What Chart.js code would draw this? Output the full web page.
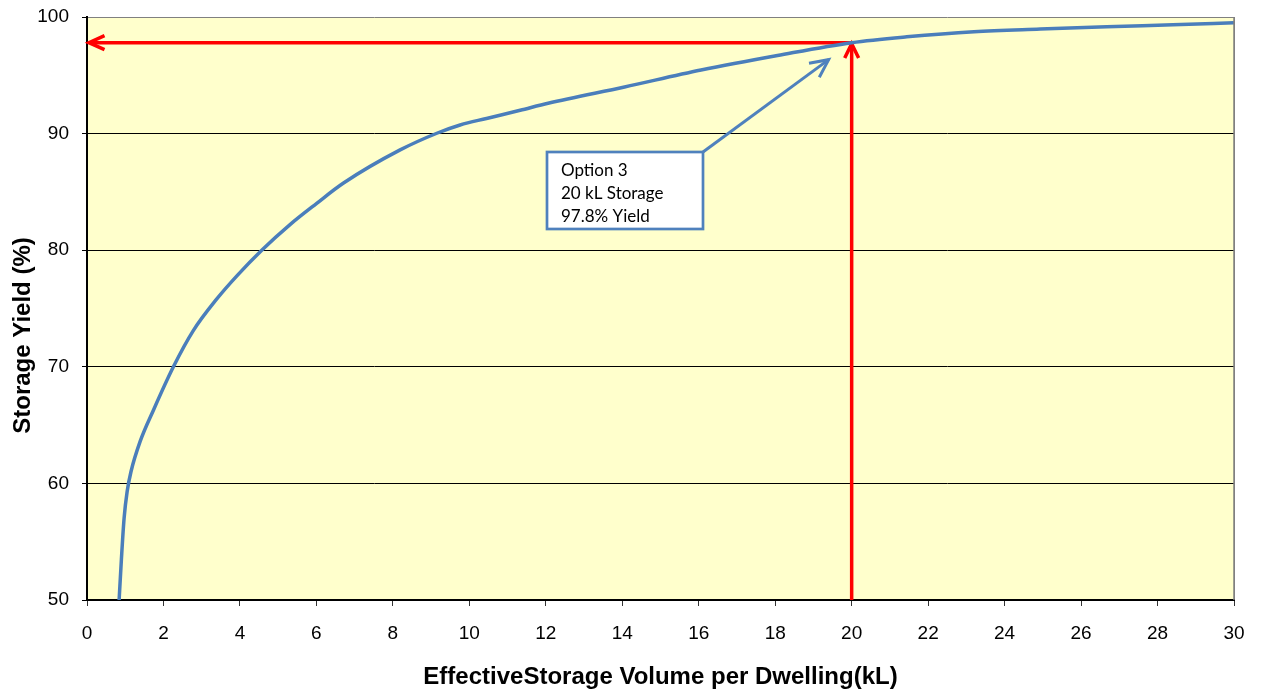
<!DOCTYPE html>
<html><head><meta charset="utf-8">
<script src="https://cdn.jsdelivr.net/npm/chart.js@4/dist/chart.umd.min.js"></script>
<style>html,body{margin:0;padding:0;background:#fff}canvas{display:block}</style>
</head><body>
<canvas id="c" width="1264" height="693"></canvas>
<script>
// ---- data ----
const storageVolume = [0.84, 0.90, 0.97, 1.05, 1.15, 1.39, 1.74, 2.26, 2.78, 3.39, 3.92, 4.57, 5.31, 6.0, 6.70, 8.19, 9.15, 9.76, 10.45, 11.33, 12.06, 14.06, 16.06, 18.06, 20.0, 21.44, 23.2, 24.93, 26.67, 28.4, 30];
const storageYield  = [50, 53.5, 57, 59.3, 61, 63.6, 66.3, 70.0, 73.1, 75.8, 77.8, 80.0, 82.2, 84.0, 85.74, 88.6, 90.03, 90.74, 91.3, 92.0, 92.6, 94.0, 95.45, 96.7, 97.8, 98.3, 98.74, 98.97, 99.17, 99.33, 99.5];
const xTickValues = [0, 2, 4, 6, 8, 10, 12, 14, 16, 18, 20, 22, 24, 26, 28, 30];
const yTickValues = [50, 60, 70, 80, 90, 100];
const option3Storage = 20;
const option3Yield = 97.8;
const calloutLines = ["Option 3", "20 kL Storage", "97.8% Yield"];
const xTitle = "EffectiveStorage Volume per Dwelling(kL)";
const yTitle = "Storage Yield (%)";

const points = storageVolume.map((v, i) => ({x: v, y: storageYield[i]}));

function arrowHead(ctx, tx, ty, angle, len, spread) {
  ctx.beginPath();
  ctx.moveTo(tx + len * Math.cos(angle + spread), ty + len * Math.sin(angle + spread));
  ctx.lineTo(tx, ty);
  ctx.lineTo(tx + len * Math.cos(angle - spread), ty + len * Math.sin(angle - spread));
  ctx.stroke();
}

const decorPlugin = {
  id: 'decor',
  beforeDraw(chart) {
    const {ctx, chartArea: a} = chart;
    ctx.save();
    ctx.fillStyle = '#FFFFCC';
    ctx.fillRect(a.left, a.top, a.right - a.left, a.bottom - a.top);
    ctx.restore();
  },
  beforeDatasetsDraw(chart) {
    const {ctx, scales} = chart;
    const px = scales.x.getPixelForValue(option3Storage);
    const py = scales.y.getPixelForValue(option3Yield);
    const x0 = scales.x.getPixelForValue(0);
    const y0 = scales.y.getPixelForValue(50);
    ctx.save();
    ctx.strokeStyle = '#FF0000';
    ctx.lineWidth = 3.5;
    ctx.lineCap = 'butt';
    ctx.lineJoin = 'miter';
    ctx.beginPath(); ctx.moveTo(px, py); ctx.lineTo(x0 + 3, py); ctx.stroke();
    arrowHead(ctx, x0 + 2, py, 0, 17, 0.42);
    ctx.beginPath(); ctx.moveTo(px, y0); ctx.lineTo(px, py + 2); ctx.stroke();
    arrowHead(ctx, px, py + 1, Math.PI / 2, 16, 0.45);
    ctx.restore();
  },
  afterDatasetsDraw(chart) {
    const {ctx, chartArea: a, scales} = chart;
    ctx.save();
    ctx.strokeStyle = '#808080';
    ctx.lineWidth = 1.5;
    ctx.beginPath(); ctx.moveTo(a.right, a.top); ctx.lineTo(a.right, a.bottom); ctx.stroke();
    const px = scales.x.getPixelForValue(option3Storage);
    const py = scales.y.getPixelForValue(option3Yield);
    const bx = a.left + 460, by = a.top + 135, bw = 156, bh = 77;
    const tipX = px - 23, tipY = py + 17;
    ctx.strokeStyle = '#4F81BD';
    ctx.lineWidth = 3;
    ctx.beginPath(); ctx.moveTo(bx + bw, by); ctx.lineTo(tipX, tipY); ctx.stroke();
    const ang = Math.atan2(by - tipY, bx + bw - tipX);
    arrowHead(ctx, tipX, tipY, ang, 20, 0.45);
    ctx.fillStyle = '#FFFFFF';
    ctx.fillRect(bx, by, bw, bh);
    ctx.lineWidth = 2.7;
    ctx.strokeRect(bx, by, bw, bh);
    ctx.fillStyle = '#000';
    ctx.font = '17px Lato, "Open Sans", sans-serif';
    ctx.textBaseline = 'alphabetic';
    calloutLines.forEach((t, i) => ctx.fillText(t, bx + 14, by + 24 + i * 22.8));
    // y axis title
    ctx.translate(23, a.top + (a.bottom - a.top) / 2 + 27);
    ctx.rotate(-Math.PI / 2);
    ctx.font = 'bold 24px "Liberation Sans", Arial, sans-serif';
    ctx.textAlign = 'center';
    ctx.textBaseline = 'middle';
    ctx.fillText(yTitle, 0, 0);
    ctx.restore();
  }
};

new Chart(document.getElementById('c'), {
  type: 'line',
  data: {
    datasets: [{
      data: points,
      borderColor: '#4A7EBB',
      borderWidth: 3.5,
      pointRadius: 0,
      fill: false,
      cubicInterpolationMode: 'monotone'
    }]
  },
  options: {
    responsive: false,
    devicePixelRatio: 1,
    animation: false,
    layout: {padding: {top: 17, right: 30, left: 0, bottom: 0}},
    plugins: {legend: {display: false}, tooltip: {enabled: false}},
    scales: {
      x: {
        type: 'linear', min: 0, max: 30,
        afterBuildTicks: s => { s.ticks = xTickValues.map(v => ({value: v})); },
        afterFit: s => { s.height = 93; s.paddingLeft = 0; s.paddingRight = 0; },
        border: {display: true, color: '#000', width: 2},
        grid: {
          drawOnChartArea: true,
          color: c => (c.tick && c.tick.value === 30) ? '#808080' : 'rgba(0,0,0,0)',
          tickColor: '#333', tickLength: 6, lineWidth: 1
        },
        ticks: {color: '#000', font: {family: 'Liberation Sans, Arial, sans-serif', size: 19}, padding: 16, maxRotation: 0},
        title: {display: true, text: xTitle, color: '#000',
          font: {family: 'Liberation Sans, Arial, sans-serif', size: 24, weight: 'bold'},
          padding: {top: 0, bottom: 1}}
      },
      y: {
        type: 'linear', min: 50, max: 100,
        afterBuildTicks: s => { s.ticks = yTickValues.map(v => ({value: v})); },
        afterFit: s => { s.width = 87; s.paddingTop = 0; s.paddingBottom = 0; },
        border: {display: true, color: '#000', width: 2},
        grid: {
          color: c => (c.tick && c.tick.value === 100) ? '#808080' : '#000',
          tickColor: '#000', tickLength: 5, lineWidth: 1
        },
        ticks: {color: '#000', font: {family: 'Liberation Sans, Arial, sans-serif', size: 19}, padding: 13}
      }
    }
  },
  plugins: [decorPlugin]
});
</script>
</body></html>
